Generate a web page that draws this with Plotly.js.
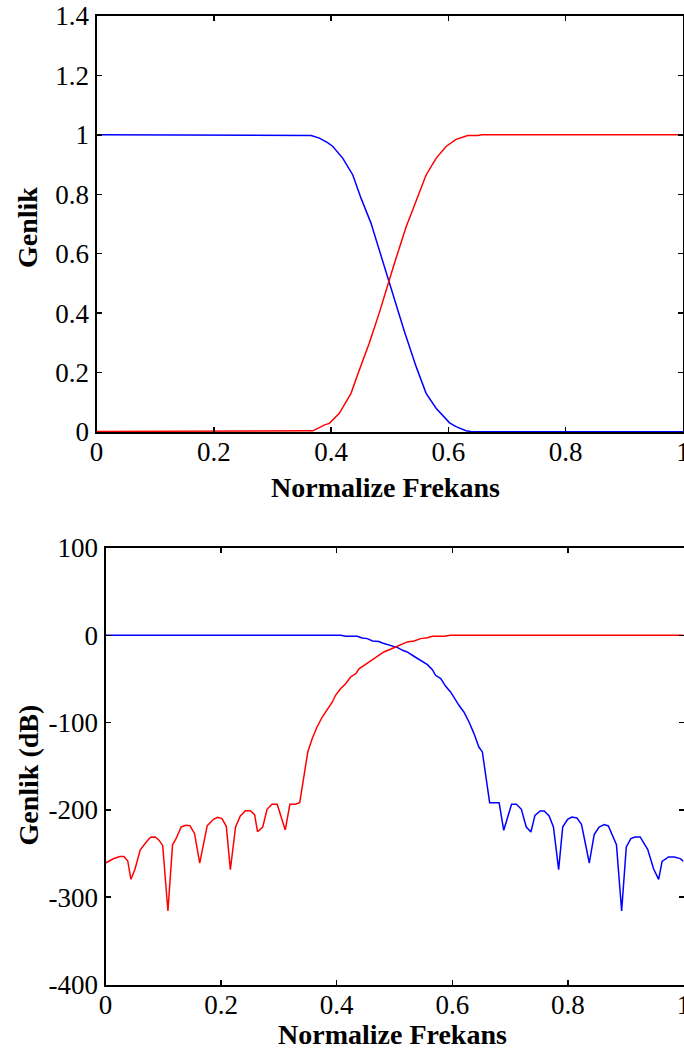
<!DOCTYPE html>
<html>
<head>
<meta charset="utf-8">
<script src="https://cdn.plot.ly/plotly-3.0.1.min.js"></script>
<style>
  html, body { margin: 0; padding: 0; background: #fff; }
  #chart { width: 684px; height: 1050px; }
</style>
</head>
<body>
<div id="chart"></div>
<script>
// ---- Top panel: linear magnitude ----
const topBlueX = [0, 0.346, 0.366, 0.380, 0.394, 0.403, 0.420, 0.437, 0.451, 0.468, 0.482, 0.4965, 0.508, 0.525, 0.545, 0.562, 0.579, 0.602, 0.613, 0.630, 0.640, 1];
const topBlueY = [1, 1, 0.998, 0.989, 0.974, 0.961, 0.921, 0.865, 0.787, 0.703, 0.613, 0.523, 0.444, 0.338, 0.220, 0.130, 0.080, 0.031, 0.018, 0.004, 0.001, 0.001];

const topRedX = [0, 0.350, 0.369, 0.389, 0.397, 0.414, 0.434, 0.445, 0.465, 0.482, 0.499, 0.508, 0.528, 0.545, 0.562, 0.579, 0.596, 0.613, 0.633, 0.650, 0.657, 1];
const topRedY = [0.002, 0.002, 0.004, 0.024, 0.029, 0.063, 0.130, 0.192, 0.299, 0.400, 0.512, 0.568, 0.691, 0.781, 0.865, 0.921, 0.961, 0.985, 0.998, 0.998, 1.0, 1.0];

// ---- Bottom panel: magnitude in dB ----
const botBlueX = [0, 0.407, 0.4155, 0.4355, 0.444, 0.453, 0.462, 0.473, 0.479, 0.491, 0.5055, 0.514, 0.522, 0.5335, 0.545, 0.557, 0.5655, 0.571, 0.580, 0.5885, 0.597, 0.604, 0.6115, 0.620, 0.629, 0.6375, 0.646, 0.652, 0.6577, 0.6646, 0.681, 0.689, 0.7025, 0.711, 0.7195, 0.728, 0.736, 0.743, 0.752, 0.759, 0.7675, 0.775, 0.784, 0.791, 0.7995, 0.807, 0.8155, 0.8235, 0.837, 0.8455, 0.854, 0.863, 0.870, 0.884, 0.893, 0.901, 0.909, 0.916, 0.925, 0.938, 0.9485, 0.957, 0.963, 0.974, 0.984, 0.9945, 1.0];
const botBlueY = [0, 0, -1.1, -1.1, -3, -3.8, -6.5, -7.2, -8.8, -11.5, -14.1, -17.2, -19.1, -24, -28.6, -33.6, -39.3, -45.8, -49.6, -58.4, -64.9, -72.5, -80.2, -87.8, -99.3, -112.6, -128, -133.6, -162.3, -191.7, -191.7, -223.4, -193.6, -193.6, -199.3, -219.6, -225.3, -206.2, -201.2, -201.2, -207, -219.6, -268.4, -219.6, -210.8, -208.1, -209.2, -216.5, -260.8, -228.3, -219.6, -216.9, -218.4, -239.8, -315.8, -242.5, -232.9, -231, -231, -245.1, -268, -279.5, -258.9, -253.9, -253.9, -255.8, -258.9];

const botRedX = [0, 0.0135, 0.025, 0.032, 0.0385, 0.044, 0.051, 0.060, 0.0715, 0.078, 0.086, 0.093, 0.099, 0.108, 0.116, 0.122, 0.131, 0.139, 0.146, 0.154, 0.163, 0.176, 0.187, 0.194, 0.2015, 0.209, 0.216, 0.225, 0.233, 0.242, 0.2505, 0.258, 0.263, 0.272, 0.2795, 0.288, 0.297, 0.311, 0.319, 0.3285, 0.336, 0.343, 0.350, 0.3575, 0.366, 0.375, 0.384, 0.3925, 0.398, 0.407, 0.4155, 0.424, 0.433, 0.439, 0.450, 0.462, 0.473, 0.4815, 0.493, 0.502, 0.514, 0.522, 0.534, 0.545, 0.557, 0.5655, 0.5855, 0.597, 1];
const botRedY = [-260.8, -256, -253.5, -253.5, -258.5, -279.5, -268, -246, -236, -231.4, -231, -235, -241, -315.8, -240, -233, -219.5, -217.6, -218, -227, -261, -218, -210.8, -208.5, -210, -218.8, -268.4, -219.6, -207.3, -201, -201, -205.4, -225, -219.6, -199.3, -193.6, -193.6, -223, -193.6, -193.6, -191.7, -162, -133.6, -118.4, -105, -93.6, -84, -76.4, -68.7, -61, -55.4, -47.7, -44, -38.2, -33.2, -27.9, -22.9, -19.1, -16, -13.4, -10.7, -7.6, -6.5, -3.8, -2.7, -1.1, -1.1, 0, 0];

// ---- Ticks and labels ----
const xTickVals = [0, 0.2, 0.4, 0.6, 0.8, 1];
const xTickText = ['0', '0.2', '0.4', '0.6', '0.8', '1'];
const topYTickVals = [0, 0.2, 0.4, 0.6, 0.8, 1, 1.2, 1.4];
const topYTickText = ['0', '0.2', '0.4', '0.6', '0.8', '1', '1.2', '1.4'];
const botYTickVals = [-400, -300, -200, -100, 0, 100];
const botYTickText = ['-400', '-300', '-200', '-100', '0', '100'];
const xTitle = 'Normalize Frekans';
const topYTitle = 'Genlik';
const botYTitle = 'Genlik (dB)';

const W = 684, H = 1050;
const FONT = 'Liberation Serif';
const tickFont = {family: FONT, size: 27, color: '#000'};
const titleFont = {family: FONT, size: 28, color: '#000', weight: 'bold'};

function axisBase(extra) {
  return Object.assign({
    showgrid: false, zeroline: false, showline: true, linecolor: '#000', linewidth: 2,
    mirror: 'ticks', ticks: 'inside', ticklen: 5, tickwidth: 1.5, tickcolor: '#000',
    tickfont: tickFont, tickmode: 'array', fixedrange: true, ticklabeloverflow: 'allow'
  }, extra);
}

const lw = 1.5;
const traces = [
  {x: topBlueX, y: topBlueY, xaxis: 'x', yaxis: 'y', mode: 'lines', line: {color: '#0000ff', width: lw}, hoverinfo: 'skip'},
  {x: topRedX, y: topRedY, xaxis: 'x', yaxis: 'y', mode: 'lines', line: {color: '#ff0000', width: lw}, hoverinfo: 'skip'},
  {x: botBlueX, y: botBlueY, xaxis: 'x2', yaxis: 'y2', mode: 'lines', line: {color: '#0000ff', width: lw}, hoverinfo: 'skip'},
  {x: botRedX, y: botRedY, xaxis: 'x2', yaxis: 'y2', mode: 'lines', line: {color: '#ff0000', width: lw}, hoverinfo: 'skip'}
];

const layout = {
  width: W, height: H,
  margin: {l: 0, r: 0, t: 0, b: 0},
  paper_bgcolor: '#fff', plot_bgcolor: '#fff',
  showlegend: false,
  xaxis: axisBase({domain: [96.5 / W, 683 / W], range: [0, 1], tickvals: xTickVals, ticktext: xTickText, anchor: 'y', ticklabelstandoff: -5}),
  yaxis: axisBase({domain: [1 - 432 / H, 1 - 16 / H], range: [0, 1.4], tickvals: topYTickVals, ticktext: topYTickText, anchor: 'x'}),
  xaxis2: axisBase({domain: [105.5 / W, 683.5 / W], range: [0, 1], tickvals: xTickVals, ticktext: xTickText, anchor: 'y2', ticklabelstandoff: -5}),
  yaxis2: axisBase({domain: [1 - 984.5 / H, 1 - 548 / H], range: [-400, 100], tickvals: botYTickVals, ticktext: botYTickText, anchor: 'x2'}),
  annotations: [
    {text: xTitle, xref: 'paper', yref: 'paper', x: 385 / W, y: 1 - 487.5 / H, xanchor: 'center', yanchor: 'middle', showarrow: false, font: titleFont},
    {text: topYTitle, xref: 'paper', yref: 'paper', x: 27.5 / W, y: 1 - 227.5 / H, xanchor: 'center', yanchor: 'middle', textangle: -90, showarrow: false, font: titleFont},
    {text: xTitle, xref: 'paper', yref: 'paper', x: 392.5 / W, y: 1 - 1034 / H, xanchor: 'center', yanchor: 'middle', showarrow: false, font: titleFont},
    {text: botYTitle, xref: 'paper', yref: 'paper', x: 27.5 / W, y: 1 - 775 / H, xanchor: 'center', yanchor: 'middle', textangle: -90, showarrow: false, font: titleFont}
  ]
};

Plotly.newPlot('chart', traces, layout, {staticPlot: true, displayModeBar: false});
</script>
</body>
</html>
